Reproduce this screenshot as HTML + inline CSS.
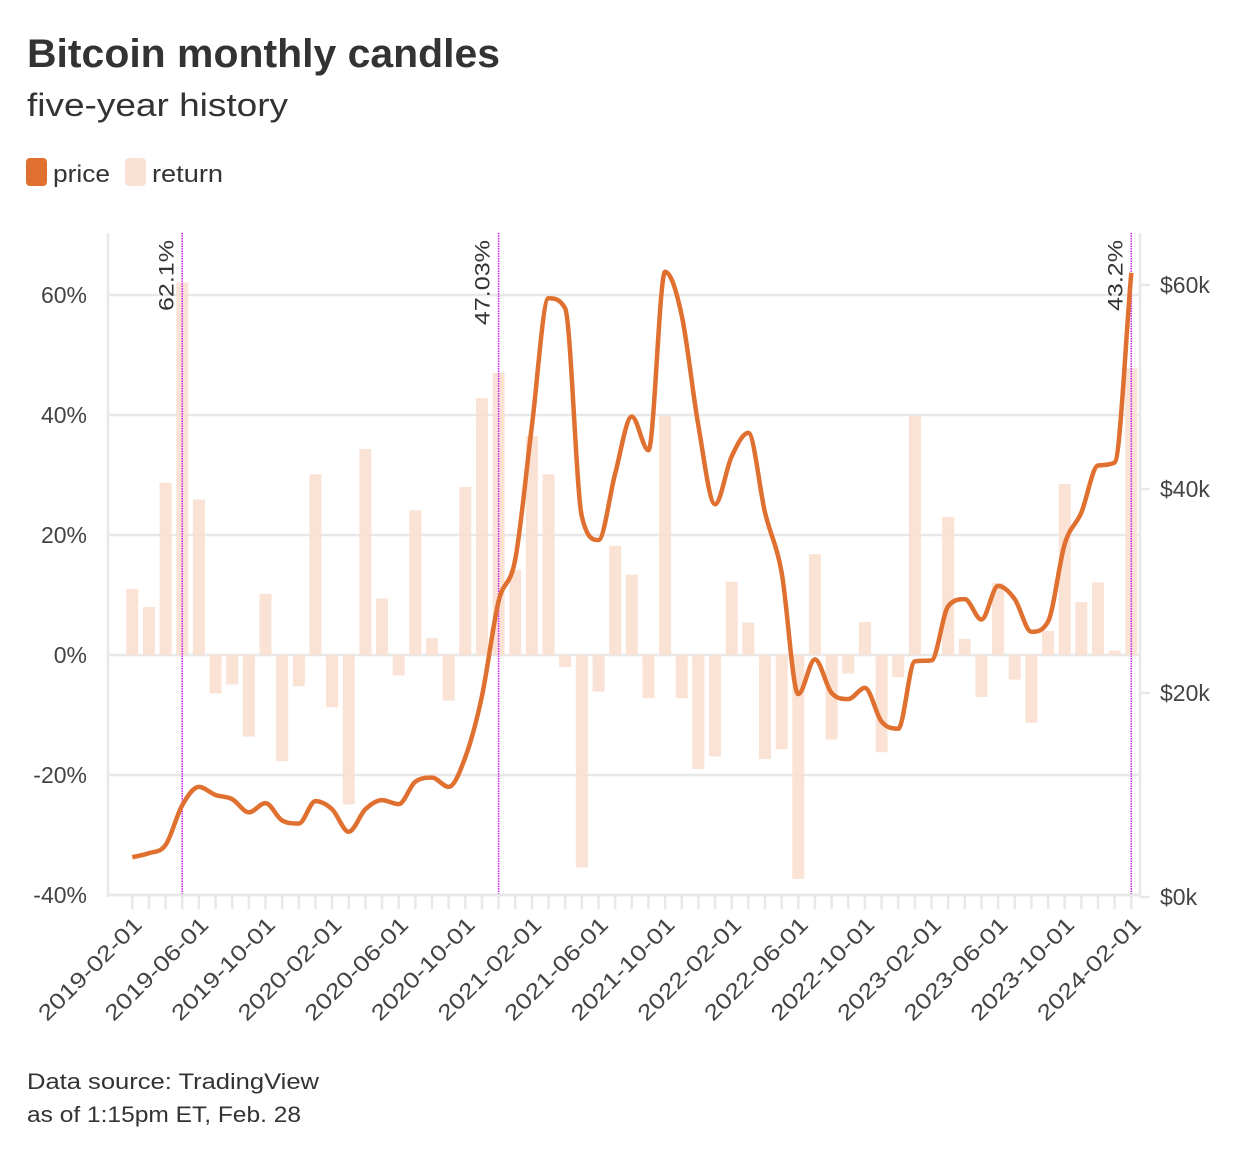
<!DOCTYPE html>
<html><head><meta charset="utf-8"><style>
html,body{margin:0;padding:0;background:#fff;}
svg{display:block;font-family:"Liberation Sans",sans-serif;}
</style></head><body>
<svg id="chart" width="1240" height="1159" viewBox="0 0 1240 1159">
<text x="27" y="67" font-size="40" font-weight="bold" fill="#333" textLength="473" lengthAdjust="spacingAndGlyphs">Bitcoin monthly candles</text>
<text x="27" y="116" font-size="32" fill="#333" textLength="261" lengthAdjust="spacingAndGlyphs">five-year history</text>
<g>
<g><rect x="26" y="158" width="21" height="28" rx="4" fill="#e07030"/><text x="53" y="182" font-size="24" fill="#333" textLength="57" lengthAdjust="spacingAndGlyphs">price</text></g>
<g><rect x="125" y="158" width="21" height="28" rx="4" fill="#fae1d4"/><text x="152" y="182" font-size="24" fill="#333" textLength="71" lengthAdjust="spacingAndGlyphs">return</text></g>
</g>
<g id="plot"></g>
<text x="27" y="1089" font-size="22" fill="#333" textLength="292" lengthAdjust="spacingAndGlyphs">Data source: TradingView</text>
<text x="27" y="1122" font-size="22" fill="#333" textLength="274" lengthAdjust="spacingAndGlyphs">as of 1:15pm ET, Feb. 28</text>
</svg>
<script>
const months = [];
for (let y = 2019, m = 2; months.length < 61; ) { months.push(y + '-' + String(m).padStart(2, '0') + '-01'); m++; if (m > 12) { m = 1; y++; } }
const returns = [11,8,28.7,62.1,25.9,-6.4,-4.9,-13.6,10.2,-17.7,-5.2,30.1,-8.7,-24.9,34.3,9.4,-3.4,24.1,2.8,-7.6,28,42.8,47.03,14.2,36.5,30.1,-2,-35.4,-6.1,18.2,13.4,-7.2,39.9,-7.2,-19,-16.9,12.2,5.4,-17.3,-15.7,-37.3,16.8,-14.1,-3.1,5.5,-16.2,-3.7,39.8,0,23,2.7,-7,12,-4.1,-11.3,4,28.5,8.8,12.1,0.7,47.8];
const prices = [3.9,4.3,5.1,9.0,10.8,10.0,9.6,8.3,9.2,7.5,7.2,9.4,8.6,6.4,8.6,9.5,9.1,11.3,11.7,10.8,13.7,19.7,29.0,33.1,46.2,58.7,57.7,37.3,35.0,41.5,47.1,43.8,61.3,57.0,46.2,38.5,43.2,45.5,37.7,31.8,19.9,23.3,20.0,19.4,20.5,17.2,16.5,23.1,23.2,28.5,29.2,27.2,30.5,29.2,26.0,27.0,34.6,37.7,42.3,42.6,61.2];
const leftTicks = [60,40,20,0,-20,-40];
const rightTicks = [0,20,40,60];
const markers = [['2019-05-01','62.1%'],['2020-12-01','47.03%'],['2024-02-01','43.2%']];
const NS = 'http://www.w3.org/2000/svg';
const plot = document.getElementById('plot');
function el(tag, attrs, parent) { const e = document.createElementNS(NS, tag); for (const k in attrs) e.setAttribute(k, attrs[k]); (parent || plot).appendChild(e); return e; }
const x = i => 132.3 + i * 16.65;
const yL = v => 655 - v * 6;
const yR = v => 897 - v * 10.2;
const X0 = 108, X1 = 1140;
leftTicks.forEach(t => {
  const g = el('line', {x1: X0, x2: X1, y1: yL(t), y2: yL(t), stroke: '#e8e8e8', 'stroke-width': 2.5});
  
  
  const tx = el('text', {x: 87, y: yL(t) + 8, 'font-size': 23, fill: '#444', 'text-anchor': 'end'});
  tx.textContent = t + '%';
  
  
});
el('line', {x1: X0, x2: X0, y1: 233, y2: 897, stroke: '#e8e8e8', 'stroke-width': 2.5});
el('line', {x1: X1, x2: X1, y1: 233, y2: 897, stroke: '#e8e8e8', 'stroke-width': 2.5});
rightTicks.forEach(t => {
  el('line', {x1: X1, x2: X1 + 10, y1: yR(t), y2: yR(t), stroke: '#e8e8e8', 'stroke-width': 2.5});
  const tx = el('text', {x: 1160, y: yR(t) + 8, 'font-size': 23, fill: '#444'});
  tx.textContent = '$' + t + 'k';
  
  
});
months.forEach((m, i) => {
  el('line', {x1: x(i), x2: x(i), y1: 895, y2: 909, stroke: '#e8e8e8', 'stroke-width': 2.5});
  if (i % 4 === 0) {
    const tx = el('text', {transform: `translate(${x(i) + 11},${926}) rotate(-45)`, 'font-size': 22, fill: '#444', 'text-anchor': 'end', textLength: 136, lengthAdjust: 'spacingAndGlyphs'});
    tx.textContent = m;
    
    
  }
});
returns.forEach((v, i) => {
  const b = el('rect', {x: x(i) - 6, y: Math.min(yL(v), yL(0)), width: 12, height: Math.abs(yL(v) - yL(0)), fill: '#f9dfd0', opacity: 0.9});
  
  
});
markers.forEach(([d, lab]) => {
  const i = months.indexOf(d);
  const l = el('line', {x1: x(i), x2: x(i), y1: 233, y2: 895, stroke: '#d020f0', 'stroke-width': 1.5, 'stroke-dasharray': '1.5 1'});
  
  
  const t = el('text', {transform: `translate(${x(i) - 9},${240}) rotate(-90)`, 'font-size': 21, fill: '#333', 'text-anchor': 'end', textLength: lab.length * 14.2, lengthAdjust: 'spacingAndGlyphs'});
  t.textContent = lab;
  
  
});
const pts = prices.map((p, i) => [x(i), yR(p)]);
function monotone(P) {
  const n = P.length, d = [], m = [];
  for (let i = 0; i < n - 1; i++) d.push((P[i+1][1] - P[i][1]) / (P[i+1][0] - P[i][0]));
  m[0] = d[0]; m[n-1] = d[n-2];
  for (let i = 1; i < n - 1; i++) m[i] = d[i-1] * d[i] <= 0 ? 0 : (d[i-1] + d[i]) / 2;
  for (let i = 0; i < n - 1; i++) {
    if (d[i] === 0) { m[i] = m[i+1] = 0; continue; }
    const a = m[i] / d[i], b = m[i+1] / d[i], s = a*a + b*b;
    if (s > 9) { const t = 3 / Math.sqrt(s); m[i] = t*a*d[i]; m[i+1] = t*b*d[i]; }
  }
  let s = `M${P[0][0]},${P[0][1]}`;
  for (let i = 0; i < n - 1; i++) {
    const h = (P[i+1][0] - P[i][0]) / 3;
    s += `C${P[i][0]+h},${P[i][1]+m[i]*h} ${P[i+1][0]-h},${P[i+1][1]-m[i+1]*h} ${P[i+1][0]},${P[i+1][1]}`;
  }
  return s;
}
const line = el('path', {d: monotone(pts), fill: 'none', stroke: '#e07030', 'stroke-width': 4.5, 'stroke-linejoin': 'round'});


el('line', {x1: X0, x2: X1, y1: 895, y2: 895, stroke: '#e8e8e8', 'stroke-width': 2.5});
</script>
</body></html>
